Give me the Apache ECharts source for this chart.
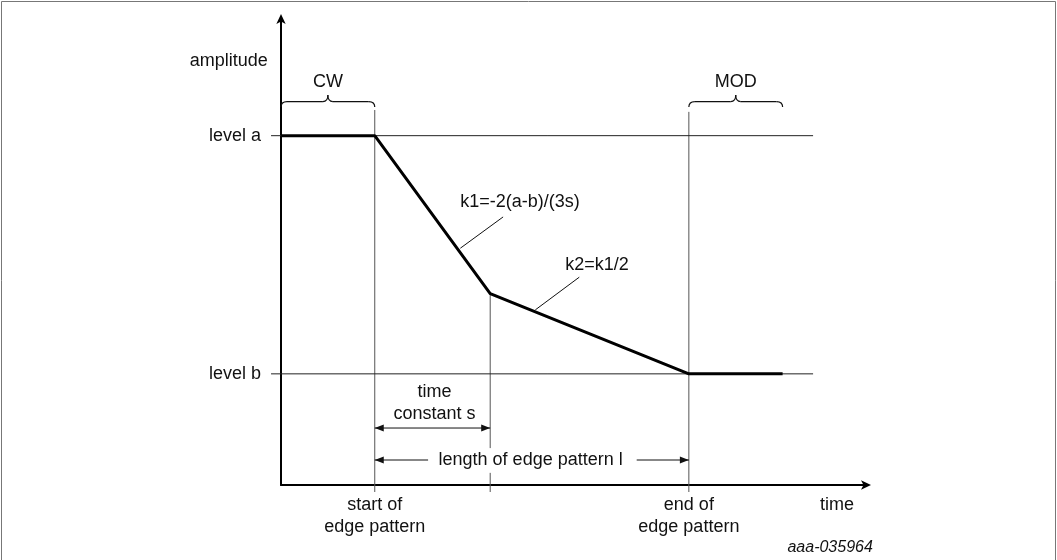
<!DOCTYPE html>
<html><head><meta charset="utf-8">
<script src="https://cdn.jsdelivr.net/npm/echarts@6/dist/echarts.min.js"></script>
<style>html,body{margin:0;padding:0;background:#fff}#c{width:1057px;height:560px}</style>
</head><body><div id="c"></div>
<script>
// ---- data (abstract units: time 0..100, amplitude 0..100) ----
const signalTime = [0, 16, 35.7, 69.6, 85.6];
const signalAmp  = [74.8, 74.8, 41.0, 23.8, 23.8];
const levelNames  = ['level a', 'level b'];
const levelValues = [74.8, 23.8];
const levelSpan   = [-1.7, 90.8];
const eventTimes  = [16, 35.7, 69.6];
const eventTops   = [80.3, 41.0, 79.9];
const eventLabels = ['start of\nedge pattern', '', 'end of\nedge pattern'];
const axisNames   = ['time', 'amplitude'];
const slopeLabels = ['k1=-2(a-b)/(3s)', 'k2=k1/2'];
const phaseLabels = ['CW', 'MOD'];
const phaseSpans  = [[0, 16], [69.6, 85.6]];
const timeConstLabel = 'time\nconstant s';
const lengthLabel = 'length of edge pattern l';
const figureId = 'aaa-035964';

const FONT = '"Liberation Sans", Arial, sans-serif';
const chart = echarts.init(document.getElementById('c'));

const series = [];
series.push({
  type: 'line', name: 'signal', symbol: 'none', z: 5,
  data: signalTime.map((t, i) => [t, signalAmp[i]]),
  lineStyle: { color: '#000', width: 3 }
});
levelValues.forEach(v => series.push({
  type: 'line', symbol: 'none', clip: false, silent: true, z: 3,
  data: [[0, v], [levelSpan[1], v]],
  lineStyle: { color: '#222', width: 1 }
}));
// vertical event lines (the middle one is interrupted by the length label)
eventTimes.forEach((t, i) => {
  if (i === 1) {
    series.push({ type: 'line', symbol: 'none', clip: false, silent: true, z: 2,
      data: [[t, eventTops[i]], [t, 7.9]], lineStyle: { color: '#555', width: 1 } });
    series.push({ type: 'line', symbol: 'none', clip: false, silent: true, z: 2,
      data: [[t, 2.6], [t, -1.5]], lineStyle: { color: '#555', width: 1 } });
  } else {
    series.push({ type: 'line', symbol: 'none', clip: false, silent: true, z: 2,
      data: [[t, eventTops[i]], [t, -1.5]], lineStyle: { color: '#555', width: 1 } });
  }
});

chart.setOption({
  animation: false,
  backgroundColor: '#fff',
  grid: { left: 281, right: 190, top: 18, bottom: 75 },
  xAxis: {
    type: 'value', min: 0, max: 100,
    axisLine: { show: true, symbol: ['none', 'arrow'], symbolSize: [7, 10], symbolOffset: [0, 4],
      lineStyle: { color: '#000', width: 2 } },
    axisTick: { show: false }, axisLabel: { show: false }, splitLine: { show: false }
  },
  yAxis: {
    type: 'value', min: 0, max: 100,
    axisLine: { show: true, symbol: ['none', 'arrow'], symbolSize: [7, 10], symbolOffset: [0, 4],
      lineStyle: { color: '#000', width: 2 } },
    axisTick: { show: false }, axisLabel: { show: false }, splitLine: { show: false }
  },
  series: series
});

const P = (x, y) => chart.convertToPixel({ gridIndex: 0 }, [x, y]);
const g = [];
const txt = (x, y, s, align, extra) => {
  const p = P(x, y);
  g.push({ type: 'text', x: p[0], y: p[1], z: 20, silent: true,
    style: Object.assign({ text: s, fill: '#111', font: '18px ' + FONT,
      align: align || 'center', verticalAlign: 'middle', lineHeight: 22 }, extra || {}) });
};
const pline = (p, q, w, col) => g.push({ type: 'line', z: 20, silent: true,
  shape: { x1: p[0], y1: p[1], x2: q[0], y2: q[1] }, style: { stroke: col || '#111', lineWidth: w || 1 } });
const seg = (a, b, w, col) => pline(P(a[0], a[1]), P(b[0], b[1]), w, col);
const quad = (p, c, q) => g.push({ type: 'bezierCurve', z: 20, silent: true,
  shape: { x1: p[0], y1: p[1], cpx1: c[0], cpy1: c[1], x2: q[0], y2: q[1] },
  style: { stroke: '#111', lineWidth: 1.2, fill: null } });
const head = (from, to) => {
  const p = P(from[0], from[1]), q = P(to[0], to[1]);
  const dx = q[0] - p[0], dy = q[1] - p[1], L = Math.hypot(dx, dy);
  const ux = dx / L, uy = dy / L, len = 9, hw = 3.5;
  const bx = q[0] - ux * len, by = q[1] - uy * len;
  g.push({ type: 'polygon', z: 21, silent: true,
    shape: { points: [[q[0], q[1]], [bx - uy * hw, by + ux * hw], [bx + uy * hw, by - ux * hw]] },
    style: { fill: '#111' } });
};
const arrow = (a, b, both) => { seg(a, b); head(a, b); if (both) head(b, a); };
const brace = (x1, x2) => {
  const a = P(x1, 82.1), b = P(x2, 82.1);
  const yb = a[1], yt = yb - 6.5, ye = yb + 5.5, cx = (a[0] + b[0]) / 2, r = 6;
  quad([a[0], ye], [a[0], yb], [a[0] + r, yb]);
  pline([a[0] + r, yb], [cx - 5, yb], 1.2);
  quad([cx - 5, yb], [cx, yb], [cx, yt]);
  quad([cx, yt], [cx, yb], [cx + 5, yb]);
  pline([cx + 5, yb], [b[0] - r, yb], 1.2);
  quad([b[0] - r, yb], [b[0], yb], [b[0], ye]);
};

// axis names
txt(-8.9, 90.8, axisNames[1]);
txt(94.9, -4.3, axisNames[0]);
// level labels + left ticks
levelNames.forEach((n, i) => {
  txt(-3.4, levelValues[i], n, 'right');
  seg([levelSpan[0], levelValues[i]], [0, levelValues[i]], 1, '#222');
});
// phases
phaseLabels.forEach((n, i) => {
  brace(phaseSpans[i][0], phaseSpans[i][1]);
  txt((phaseSpans[i][0] + phaseSpans[i][1]) / 2, 86.2, n);
});
// slope labels + leaders
txt(30.6, 60.6, slopeLabels[0], 'left');
seg([37.9, 57.4], [30.6, 50.7]);
txt(48.5, 47.1, slopeLabels[1], 'left');
seg([50.9, 44.5], [43.4, 37.5]);
// time constant
txt(26.2, 17.5, timeConstLabel);
arrow([eventTimes[0], 12.2], [eventTimes[1], 12.2], true);
// length of edge pattern
txt(42.6, 5.35, lengthLabel);
arrow([25.1, 5.35], [eventTimes[0], 5.35]);
arrow([60.7, 5.35], [eventTimes[2], 5.35]);
// event labels
eventLabels.forEach((s, i) => { if (s) txt(eventTimes[i], -6.6, s); });
// figure id
txt(101, -13.5, figureId, 'right', { font: 'italic 16px ' + FONT });
// frame
g.push({ type: 'polyline', z: 0, silent: true,
  shape: { points: [[1.5, 560], [1.5, 1.5], [1055.5, 1.5], [1055.5, 560]] },
  style: { stroke: '#777', lineWidth: 1, fill: null } });

chart.setOption({ graphic: g });
</script>
</body></html>
